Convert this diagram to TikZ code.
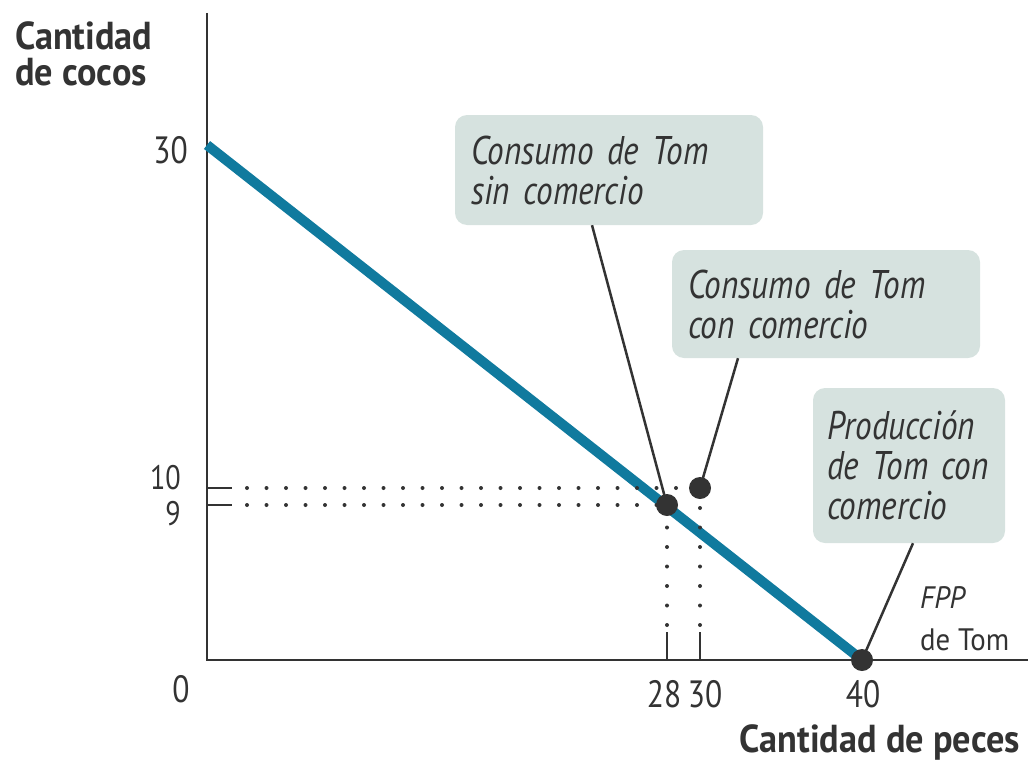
\documentclass[tikz,border=0pt]{standalone}
\usepackage{fontspec}
\setmainfont[FakeStretch=0.93]{PT Sans}
\newfontfamily\calloutfont[FakeStretch=0.83]{PT Sans}
\usetikzlibrary{calc}
\definecolor{fppblue}{RGB}{16,122,158}
\definecolor{calloutfill}{RGB}{214,226,223}
\definecolor{inkgray}{RGB}{51,51,51}

\begin{document}
\begin{tikzpicture}[x=1pt, y=-1pt,
    axis/.style={draw=inkgray, line width=2.5pt},
    tickmark/.style={draw=inkgray, line width=2.5pt},
    guide/.style={draw=inkgray, line width=4pt, line cap=round, dash pattern=on 0pt off 19.5pt},
    frontier/.style={draw=fppblue, line width=10pt},
    ptdot/.style={circle, fill=inkgray, inner sep=0pt, minimum size=22pt},
    callout/.style={rounded corners=12pt, fill=calloutfill, inner xsep=16pt, inner ysep=0pt,
        align=left, font=\calloutfont\fontsize{40}{40}\selectfont\itshape, text=inkgray},
    leader/.style={draw=inkgray, line width=2.5pt},
    num/.style={inner sep=0pt, font=\calloutfont\fontsize{38}{40}\selectfont, text=inkgray},
    smallnum/.style={num, font=\calloutfont\fontsize{34}{40}\selectfont},
    axlabel/.style={inner sep=0pt, align=left, font=\fontsize{39}{36}\selectfont\bfseries, text=inkgray}]
    \useasboundingbox (0,0) rectangle (1032,768);

    % axes
    \coordinate (O) at (207,660);
    \coordinate (ytop) at (207,13);
    \coordinate (xend) at (1028,660);
    \draw[axis] (ytop) -- (O) -- (xend);

    % points of the figure
    \coordinate (y30) at (207,145);
    \coordinate (p28) at (667,505);
    \coordinate (p30) at (700,488);
    \coordinate (p40) at (862,660);

    % ticks at 9, 10, 28 and 30
    \draw[tickmark] (O |- p30) -- ++(25,0);
    \draw[tickmark] (O |- p28) -- ++(25,0);
    \draw[tickmark] (p28 |- O) -- ++(0,-28);
    \draw[tickmark] (p30 |- O) -- ++(0,-28);

    % FPP de Tom
    \draw[frontier] (y30) -- (p40);

    % dotted guides
    \draw[guide] ($(O |- p30)+(40,0)$) -- (p30);
    \draw[guide] ($(O |- p28)+(40,0)$) -- (p28);
    \draw[guide] ($(p28 |- O)+(0,-35)$) -- (p28);
    \draw[guide] ($(p30 |- O)+(0,-35)$) -- (p30);

    % callouts
    \node[callout, minimum width=308pt, minimum height=110pt, text width=276pt] (box1) at (609,170)
        {Consumo de Tom\\sin comercio};
    \node[callout, minimum width=308pt, minimum height=108pt, text width=276pt] (box2) at (826,304)
        {Consumo de Tom\\con comercio};
    \node[callout, minimum width=192pt, minimum height=155pt, text width=164pt, inner xsep=14pt] (box3) at (909,465.5)
        {Producción\\de Tom con\\comercio};

    \draw[leader] ($(box1.south)+(-17,0)$) -- (p28);
    \draw[leader] ($(box2.south)+(-88,0)$) -- (p30);
    \draw[leader] ($(box3.south)+(4,0)$) -- (p40);

    \node[ptdot] (d28) at (p28) {};
    \node[ptdot] (d30) at (p30) {};
    \node[ptdot] (d40) at (p40) {};

    % axis labels and numbers
    \node[axlabel, anchor=north west] (ylab) at (15,21) {Cantidad\\de cocos};
    \node[axlabel, anchor=base east] (xlab) at (1020,752) {Cantidad de peces};

    \node[num, anchor=base east] (n30y) at (188,163) {30};
    \node[smallnum, anchor=base east] (n10) at (181,489) {10};
    \node[smallnum, anchor=base east] (n9) at (181,525) {9};
    \node[num, anchor=base] (n0) at (181,702) {0};
    \node[num, anchor=base] (n28) at (664,707) {28};
    \node[num, anchor=base] (n30x) at (705,707) {30};
    \node[num, anchor=base] (n40) at (863,707) {40};

    \node[inner sep=0pt, anchor=north west, align=left, font=\fontsize{31}{42}\selectfont, text=inkgray]
        (fpplab) at (920,586) {\textit{FPP}\\de Tom};
\end{tikzpicture}
\end{document}
